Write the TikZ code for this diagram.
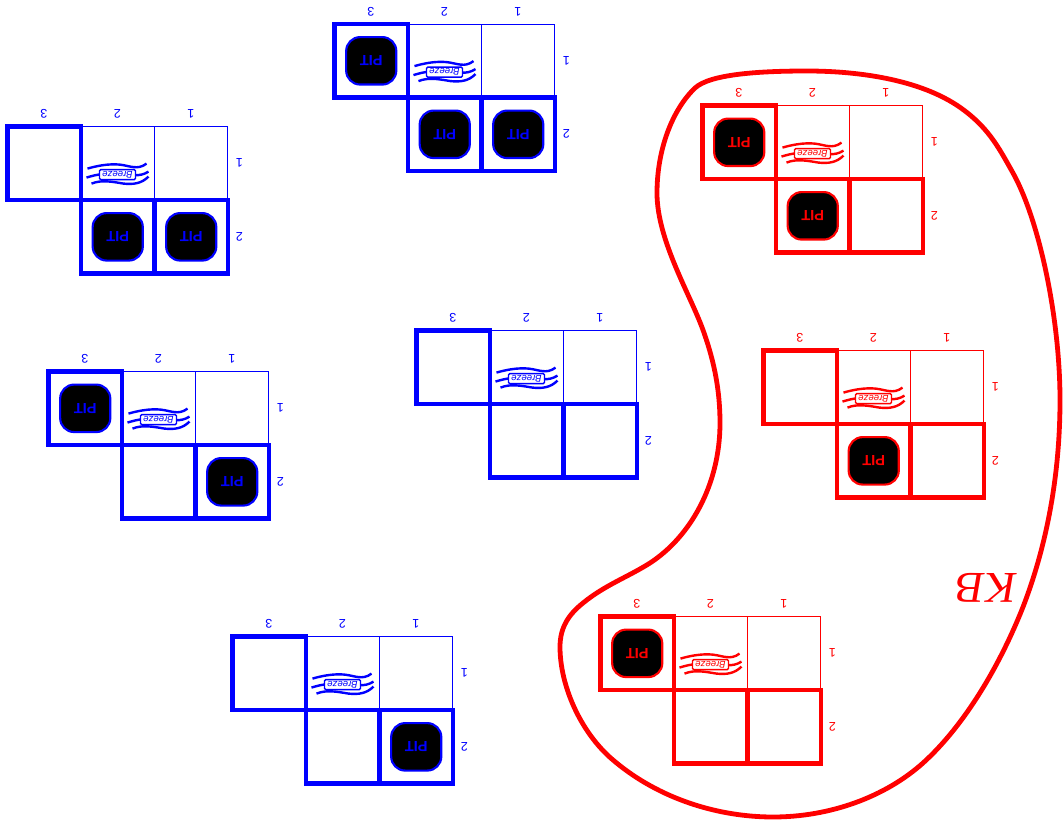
\documentclass[tikz,border=0pt]{standalone}
\usepackage{fontspec}
\setmainfont{Liberation Sans}
\newfontfamily\kbfont{Liberation Serif}
\newcommand{\px}[1]{\fontsize{#1}{#1}\selectfont}
\tikzset{
  x=0.75pt,y=-0.75pt,
  thincell/.style={draw=wcol,line width=0.75pt,minimum size=55.1pt,inner sep=0pt,outer sep=0pt,anchor=north west},
  thickcell/.style={draw=wcol,line width=3.4pt,minimum size=55.1pt,inner sep=0pt,outer sep=0pt,anchor=north west},
  pitbox/.style={draw=wcol,fill=black,text=wcol,line width=1.6pt,rounded corners=10.5pt,minimum width=37.6pt,minimum height=35.6pt,inner sep=0pt,rotate=180,font=\bfseries\px{11pt}},
  numlabel/.style={text=wcol,rotate=180,inner sep=0pt,font=\px{9.4pt}},
  breezebox/.style={draw=wcol,fill=white,line width=1.1pt,rounded corners=1pt,minimum width=27pt,minimum height=7.6pt,inner sep=0pt,rotate=180,text=wcol,font=\itshape\px{7.2pt}},
  breezeline/.style={draw=wcol,line width=1.8pt},
  kblabel/.style={text=red,rotate=180,xslant=0.17,inner sep=0pt,font=\kbfont\px{33pt}},
  kbline/.style={draw=red,line width=3.6pt}
}
% #1 name, #2 x, #3 y, #4 colour, #5 cell 3-1 pit?, #6 cell 2-2 pit?, #7 cell 1-2 pit?
\newcommand{\wgrid}[7]{%
\begin{scope}[shift={({#2-0.5},{#3-0.4})}]
  \colorlet{wcol}{#4}
  \node[thincell] (#1c21) at (73.5,0) {};
  \node[thincell] (#1c11) at (147,0) {};
  \node[thickcell] (#1c31) at (0,0) {};
  \node[thickcell] (#1c22) at (73.5,73.5) {};
  \node[thickcell] (#1c12) at (147,73.5) {};
  \node[numlabel] (#1n3) at (36.5,-12.5) {3};
  \node[numlabel] (#1n2) at (110,-12.5) {2};
  \node[numlabel] (#1n1) at (183.5,-12.5) {1};
  \node[numlabel] (#1m1) at (232,36.5) {1};
  \node[numlabel] (#1m2) at (232,110) {2};
  \ifnum#5=1 \node[pitbox] (#1p31) at (#1c31.center) {PIT};\fi
  \ifnum#6=1 \node[pitbox] (#1p22) at (#1c22.center) {PIT};\fi
  \ifnum#7=1 \node[pitbox] (#1p12) at (#1c12.center) {PIT};\fi
  \begin{scope}[shift={(110,48)}]
    \draw[breezeline] (-30,-6) .. controls (-20,-9) and (-8,-11) .. (2,-10) .. controls (12,-9) and (20,-4) .. (29,-11);
    \draw[breezeline] (-31,3) .. controls (-22,0) and (-10,-2) .. (2,-1) .. controls (12,0) and (22,3) .. (31,-3);
    \draw[breezeline] (-26,9) .. controls (-16,5) and (-6,7) .. (6,9) .. controls (16,10) and (24,9) .. (31,2);
    \node[breezebox] (#1b) at (0,0) {Breeze};
  \end{scope}
\end{scope}}
\begin{document}
\begin{tikzpicture}
\useasboundingbox (0,0) rectangle (1064,820);
\wgrid{a}{335}{24.5}{blue}{1}{1}{1}
\wgrid{b}{8}{127}{blue}{0}{1}{1}
\wgrid{c}{49}{372}{blue}{1}{0}{1}
\wgrid{d}{417}{331}{blue}{0}{0}{0}
\wgrid{e}{233}{637}{blue}{0}{0}{1}
\wgrid{f}{703}{106}{red}{1}{1}{0}
\wgrid{g}{764}{351}{red}{0}{1}{0}
\wgrid{h}{601}{617}{red}{1}{0}{0}
\draw[kbline] (657,193)
  .. controls (657,150) and (672,110) .. (695,88)
  .. controls (710,74) and (760,71) .. (807,71)
  .. controls (860,71) and (925,80) .. (965,111)
  .. controls (990,130) and (1000,150) .. (1013,173)
  .. controls (1040,222) and (1060,320) .. (1060,400)
  .. controls (1060,480) and (1045,550) .. (1023,607)
  .. controls (1000,665) and (965,725) .. (923,763)
  .. controls (885,797) and (830,817) .. (773,817)
  .. controls (720,817) and (660,800) .. (613,760)
  .. controls (580,732) and (560,685) .. (560,647)
  .. controls (560,628) and (568,615) .. (583,603)
  .. controls (605,585) and (628,577) .. (650,563)
  .. controls (690,537) and (720,485) .. (720,423)
  .. controls (720,385) and (712,355) .. (703,330)
  .. controls (690,294) and (657,240) .. (657,193) -- cycle;
\node[kblabel] (kb) at (985,588) {KB};
\end{tikzpicture}
\end{document}
